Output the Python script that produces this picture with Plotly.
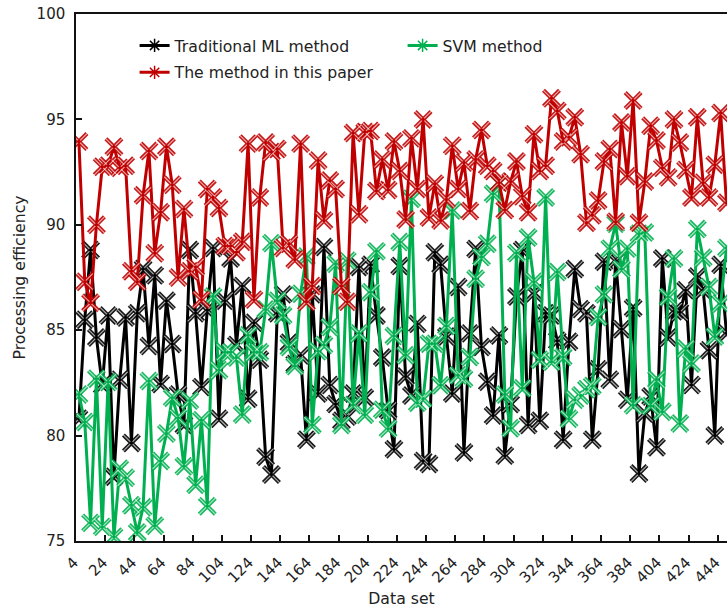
import plotly.graph_objects as go

categories = [str(4 * (i + 1)) for i in range(112)]
series_names = ["Traditional ML method", "SVM method", "The method in this paper"]
colors = ["#000000", "#00B050", "#C00000"]
legend_ids = ["legend", "legend", "legend2"]

traditional = [80.8, 85.5, 88.8, 84.65, 82.4, 85.7, 78.05, 82.65, 85.6, 79.65,
               85.8, 87.9, 84.25, 87.6, 82.45, 86.4, 84.35, 81.95, 80.5, 88.8,
               85.8, 82.3, 85.95, 88.9, 80.8, 86.4, 88.4, 84.3, 87.1, 81.75,
               85.35, 83.6, 79.0, 78.15, 85.8, 86.7, 84.4, 83.4, 83.8, 79.8,
               86.7, 82.0, 88.95, 82.4, 81.5, 80.7, 80.9, 82.0, 88.0, 81.8,
               88.1, 85.7, 83.7, 81.2, 79.35, 88.05, 82.8, 81.9, 85.3, 78.8,
               78.65, 88.7, 88.1, 84.7, 82.0, 87.05, 79.2, 84.85, 88.85, 84.2,
               82.55, 80.95, 84.75, 79.05, 81.5, 86.6, 88.8, 80.5, 86.75, 80.7,
               85.8, 85.7, 84.5, 79.8, 84.45, 87.9, 86.0, 85.8, 79.8, 83.15,
               88.25, 82.65, 88.3, 85.05, 81.7, 86.05, 78.2, 81.05, 81.85, 79.45,
               88.4, 84.65, 85.9, 85.85, 86.9, 82.4, 87.55, 86.9, 84.05, 80.0,
               88.1, 84.85]

svm = [81.95, 80.65, 75.86, 82.7, 75.67, 82.54, 75.2, 78.43, 78.0, 76.7,
       75.4, 76.6, 82.59, 75.72, 78.8, 80.1, 81.8, 80.84, 78.55, 81.67,
       77.67, 80.73, 76.65, 86.6, 83.1, 83.95, 83.95, 83.7, 81.0, 84.76,
       83.95, 83.95, 85.98, 89.13, 86.4, 85.7, 84.2, 83.3, 86.73, 88.5,
       80.5, 84.0, 84.3, 85.15, 88.15, 80.5, 88.3, 81.45, 84.85, 80.99,
       86.8, 88.74, 81.23, 80.33, 84.72, 89.18, 83.81, 91.24, 81.56, 81.75,
       84.36, 84.36, 82.39, 85.2, 90.68, 82.86, 82.7, 83.73, 87.44, 88.47,
       89.1, 91.47, 92.0, 81.95, 80.35, 88.66, 82.25, 89.4, 87.3, 83.6,
       91.3, 83.5, 87.76, 83.73, 80.8, 81.7, 81.9, 82.2, 82.35, 85.63,
       86.7, 88.87, 90.05, 87.9, 88.87, 81.44, 89.58, 89.63, 81.4, 82.66,
       81.13, 86.57, 88.4, 80.57, 84.13, 83.42, 89.8, 88.44, 87.05, 84.7,
       86.26, 88.9]

proposed = [93.95, 87.3, 86.3, 90.0, 92.75, 92.8, 93.7, 92.7, 92.8, 87.8,
            87.3, 91.4, 93.5, 88.65, 90.6, 93.7, 91.9, 87.5, 90.75, 87.8,
            88.0, 86.45, 91.7, 91.3, 90.8, 89.0, 89.0, 88.7, 89.2, 93.85,
            86.45, 91.3, 93.9, 93.45, 93.6, 88.9, 89.1, 88.35, 93.85, 86.35,
            87.1, 93.05, 90.2, 92.1, 91.7, 87.1, 86.35, 94.35, 90.5, 94.4,
            94.45, 91.6, 93.1, 91.65, 93.95, 92.55, 90.25, 94.1, 91.7, 95.0,
            90.35, 91.95, 90.2, 91.2, 93.75, 91.7, 92.95, 90.65, 93.1, 94.5,
            92.8, 92.55, 92.0, 90.7, 92.05, 93.0, 91.35, 90.6, 94.3, 92.55,
            92.8, 96.0, 95.4, 93.95, 94.15, 95.1, 93.35, 90.1, 90.45, 91.15,
            93.0, 93.6, 90.15, 94.85, 92.3, 95.9, 90.1, 92.05, 94.7, 94.0,
            92.7, 92.25, 95.0, 93.9, 92.6, 91.3, 95.1, 92.0, 91.3, 92.85,
            95.3, 91.05]

y_ticks = [75, 80, 85, 90, 95, 100]
all_series = [traditional, svm, proposed]

FONT = "DejaVu Sans"
TEXT = "#222222"
TICK_FONT = dict(family=FONT, size=15, color=TEXT)

fig = go.Figure()
for name, color, values, lg in zip(series_names, colors, all_series, legend_ids):
    fig.add_trace(go.Scatter(
        x=categories, y=values, mode="lines", showlegend=False,
        line=dict(color=color, width=3), hoverinfo="skip"))
    fig.add_trace(go.Scatter(
        x=categories, y=values, mode="markers", showlegend=False,
        marker=dict(symbol="x-thin-open", size=16, color=color, opacity=0.9, line=dict(width=4.2))))
    fig.add_trace(go.Scatter(
        x=categories, y=values, mode="markers", showlegend=False, hoverinfo="skip",
        marker=dict(symbol="x-thin-open", size=16, color="rgba(255,255,255,0.65)", line=dict(width=1.1))))
    fig.add_trace(go.Scatter(
        x=categories, y=values, mode="markers", showlegend=False, hoverinfo="skip",
        marker=dict(symbol="circle", size=3.5, color=color)))
    fig.add_trace(go.Scatter(
        x=[None], y=[None], mode="lines+markers", name=name, legend=lg,
        line=dict(color=color, width=3),
        marker=dict(symbol="asterisk-open", size=11, color=color, line=dict(width=1.5))))

lg_common = dict(orientation="h", xanchor="left", yanchor="top",
                 entrywidth=223, entrywidthmode="pixels", bgcolor="rgba(0,0,0,0)",
                 font=dict(size=15.7, family=FONT, color=TEXT))
fig.update_layout(
    width=727, height=608, autosize=False,
    margin=dict(l=76, r=0, t=14, b=67),
    paper_bgcolor="white", plot_bgcolor="white",
    font=dict(family=FONT, size=15, color=TEXT),
    showlegend=True,
    legend=dict(x=0.09, y=0.972, **lg_common),
    legend2=dict(x=0.09, y=0.921, **lg_common),
    xaxis=dict(type="category", categoryorder="array", categoryarray=categories,
               range=[-0.5, 111.09], tickson="boundaries", dtick=5, tick0=0,
               ticks="inside", ticklen=6, tickwidth=1.5, tickcolor="#111111",
               tickangle=-45, tickfont=TICK_FONT, ticklabelstandoff=5, ticklabelshift=-5,
               showgrid=False, zeroline=False,
               showline=True, linecolor="#111111", linewidth=1.5, mirror=True,
               title=dict(text="Data set", standoff=8, font=dict(size=15.7))),
    yaxis=dict(range=[75, 100], tickvals=y_ticks, ticks="inside", ticklen=6, tickwidth=1.5,
               tickfont=TICK_FONT, ticklabelstandoff=6,
               tickcolor="#111111", showgrid=False, zeroline=False,
               showline=True, linecolor="#111111", linewidth=1.5,
               title=dict(text="Processing efficiency", standoff=7, font=dict(size=15.7))),
)
fig.write_html("out.html", config={"displayModeBar": False},
               post_script="document.body.style.margin='0';document.body.style.overflow='hidden';")
